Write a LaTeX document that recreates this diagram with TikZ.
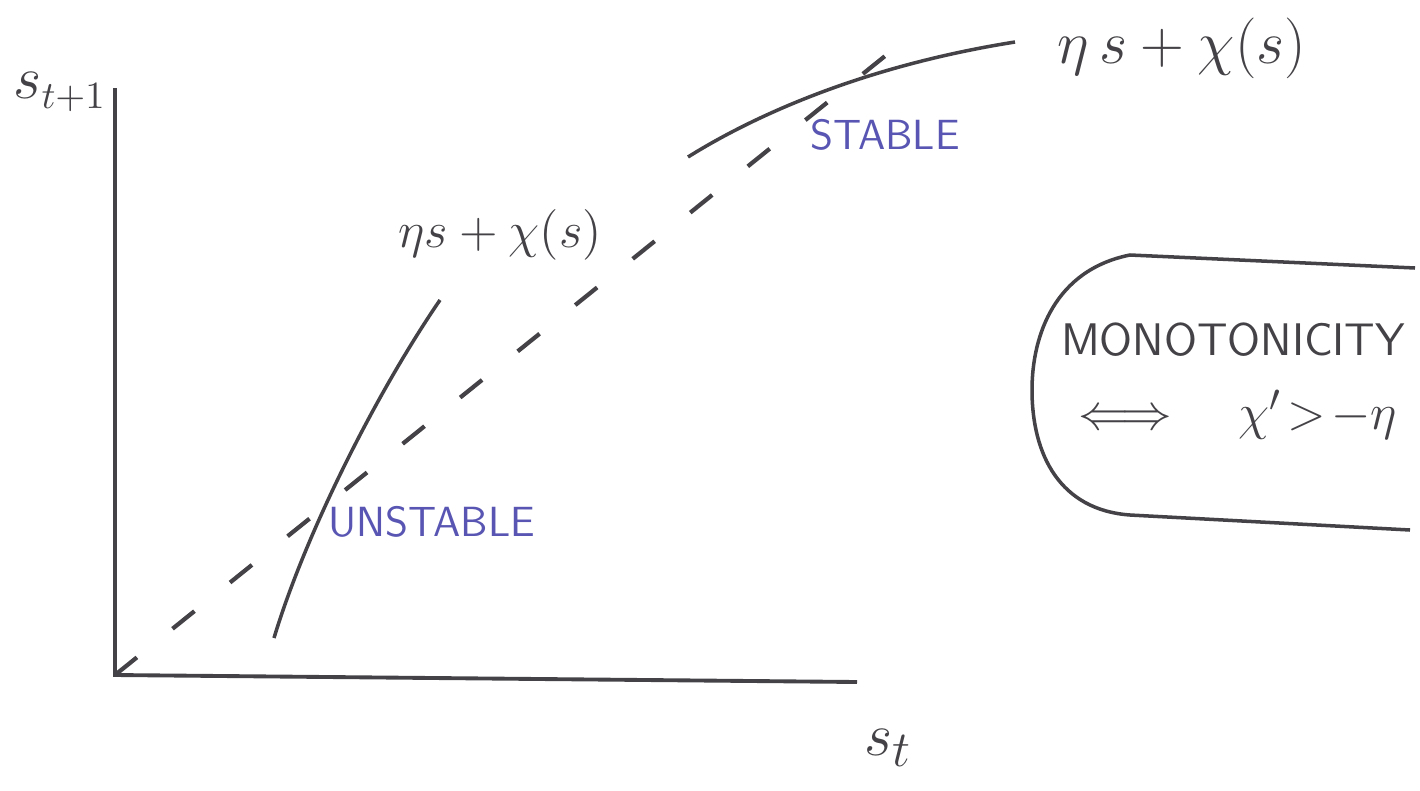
\documentclass[tikz,border=0pt]{standalone}
\usepackage{amsmath}
\definecolor{ink}{RGB}{68,66,70}
\definecolor{pen}{RGB}{88,86,178}

\begin{document}
\begin{tikzpicture}[
  axis/.style={ink, line width=1.1pt},
  curve/.style={ink, line width=1.0pt},
  diag/.style={ink, line width=1.2pt, dash pattern=on 8pt off 13pt},
  lab/.style={ink, font=\fontsize{14}{16}\selectfont},
  note/.style={pen, font=\sffamily\fontsize{12}{14}\selectfont},
  ]
\useasboundingbox (0,0) rectangle (14.2,7.9);

% ---- Axes ------------------------------------------------------------------
\coordinate (O) at (1.15,1.15);
\coordinate (ytop) at (1.15,7.02);
\coordinate (xend) at (8.57,1.08);
\draw[axis] (ytop) -- (O) -- (xend);
\node[lab, font=\fontsize{16}{18}\selectfont] (ylab) at (0.60,6.98) {$s_{t+1}$};
\node[lab, font=\fontsize{19}{21}\selectfont] (xlab) at (8.88,0.42) {$s_t$};

% ---- 45 degree line --------------------------------------------------------
\coordinate (diagend) at (9.05,7.50);
\draw[diag] (O) -- (diagend);

% ---- Steep branch (unstable) -----------------------------------------------
\coordinate (lowA) at (2.74,1.52);
\coordinate (lowB) at (4.40,4.90);
\draw[curve] (lowA) .. controls (3.05,2.55) and (3.75,3.95) .. (lowB);
\node[lab] (lowlab) at (5.00,5.55) {$\eta s+\chi(s)$};
\node[note] (unstable) at (4.32,2.68) {UNSTABLE};

% ---- Flat branch (stable) --------------------------------------------------
\coordinate (upA) at (6.88,6.33);
\coordinate (upB) at (10.15,7.48);
\draw[curve] (upA) .. controls (7.60,6.78) and (8.70,7.25) .. (upB);
\node[lab, font=\fontsize{18}{20}\selectfont, anchor=west] (uplab) at (10.45,7.42) {$\eta\, s+\chi(s)$};
\node[note] (stable) at (8.85,6.55) {STABLE};

% ---- Monotonicity remark ---------------------------------------------------
\draw[curve] (14.15,5.22) -- (11.30,5.35)
  .. controls (10.55,5.20) and (10.32,4.55) .. (10.32,4.00)
  .. controls (10.32,3.35) and (10.60,2.80) .. (11.30,2.75) -- (14.10,2.60);
\node[ink, font=\sffamily\fontsize{13}{15}\selectfont] (mono) at (12.33,4.50) {MONOTONICITY};
\node[lab, font=\fontsize{15}{17}\selectfont] (cond) at (12.38,3.75)
  {$\Longleftrightarrow\quad \chi'\!>\!-\eta$};

\end{tikzpicture}
\end{document}
